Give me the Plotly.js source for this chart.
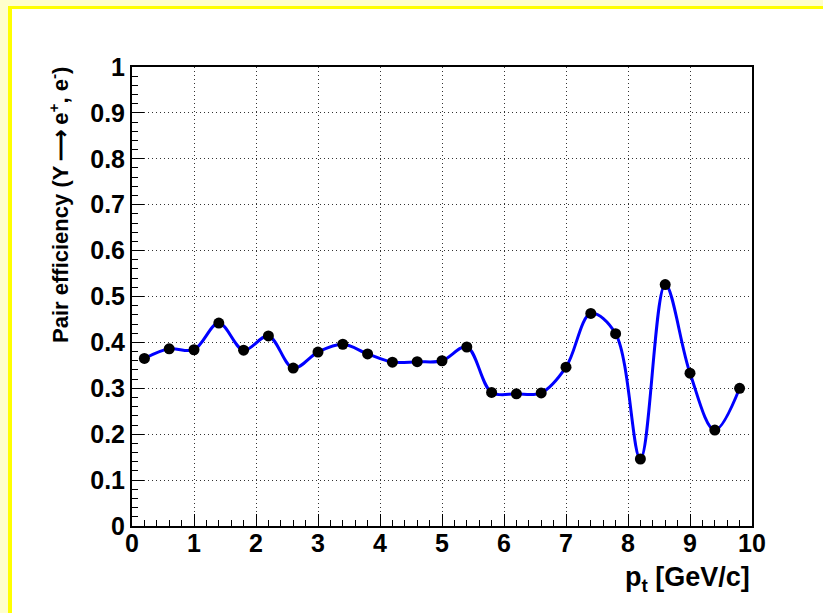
<!DOCTYPE html>
<html>
<head>
<meta charset="utf-8">
<script src="https://cdn.plot.ly/plotly-3.0.1.min.js"></script>
<style>
  html, body { margin: 0; padding: 0; background: #ffffcc; width: 823px; height: 613px; overflow: hidden; }
  #frame { position: absolute; left: 8px; top: 6px; width: 815px; height: 607px; border-left: 4px solid #ffff00; border-top: 3px solid #ffff00; background: #ffffff; }
  #plot { position: absolute; left: 0; top: 0; width: 811px; height: 604px; }
</style>
</head>
<body>
<div id="frame"><div id="plot"></div></div>
<script>
// Data
const ptValues = [0.2, 0.6, 1.0, 1.4, 1.8, 2.2, 2.6, 3.0, 3.4, 3.8, 4.2, 4.6, 5.0,
                  5.4, 5.8, 6.2, 6.6, 7.0, 7.4, 7.8, 8.2, 8.6, 9.0, 9.4, 9.8];
const efficiency = [0.365, 0.386, 0.384, 0.442, 0.383, 0.414, 0.344, 0.379, 0.396, 0.375, 0.357, 0.358, 0.360,
                    0.390, 0.291, 0.288, 0.290, 0.346, 0.463, 0.419, 0.146, 0.526, 0.333, 0.209, 0.300];
const xTickVals = [0, 1, 2, 3, 4, 5, 6, 7, 8, 9, 10];
const xTickText = ["0", "1", "2", "3", "4", "5", "6", "7", "8", "9", "10"];
const yTickVals = [0, 0.1, 0.2, 0.3, 0.4, 0.5, 0.6, 0.7, 0.8, 0.9, 1];
const yTickText = ["0", "0.1", "0.2", "0.3", "0.4", "0.5", "0.6", "0.7", "0.8", "0.9", "1"];
const xTitle = "p<sub>t</sub> [GeV/c]";
const yTitle = "Pair efficiency (\u03A5\u2009\u27F6\u2009e<sup>+</sup>, e<sup>-</sup>)";

const fontFam = "Liberation Sans, Arial, Helvetica, sans-serif";
const tickFont = { family: fontFam, size: 25, color: "#000000", weight: "bold" };

const curve = {
  x: ptValues, y: efficiency, type: "scatter", mode: "lines",
  line: { color: "#0000ff", width: 3, shape: "spline", smoothing: 1.0 },
  hoverinfo: "skip", showlegend: false
};
const points = {
  x: ptValues, y: efficiency, type: "scatter", mode: "markers",
  marker: { color: "#000000", size: 11, symbol: "circle" },
  showlegend: false
};

const axisCommon = {
  showline: true, linecolor: "#000000", linewidth: 2, mirror: true,
  ticks: "inside", ticklen: 12, tickwidth: 1, tickcolor: "#000000",
  showgrid: true, gridcolor: "#333333", gridwidth: 1, griddash: "1px,3px",
  zeroline: false,
  tickfont: tickFont
};

// x tick labels placed as annotations positioned by the x axis scale
const xLabelAnns = xTickVals.map((v, i) => ({
  text: xTickText[i], xref: "x", yref: "paper", x: v, y: -0.036,
  xanchor: "center", yanchor: "middle", showarrow: false, font: tickFont
}));

const layout = {
  width: 811, height: 604,
  margin: { l: 120, r: 71, t: 58, b: 87 },
  paper_bgcolor: "#ffffff", plot_bgcolor: "#ffffff",
  xaxis: Object.assign({}, axisCommon, {
    range: [0, 10], tickvals: xTickVals, ticktext: xTickText, showticklabels: false,
    minor: { ticks: "inside", ticklen: 6, dtick: 0.2, tickcolor: "#000000", showgrid: false }
  }),
  yaxis: Object.assign({}, axisCommon, {
    range: [0, 1], tickvals: yTickVals, ticktext: yTickText,
    ticklabelstandoff: 0,
    minor: { ticks: "inside", ticklen: 6, dtick: 0.02, tickcolor: "#000000", showgrid: false }
  }),
  annotations: xLabelAnns.concat([
    { text: xTitle, xref: "paper", yref: "paper", x: 1, y: -0.115, xanchor: "right", yanchor: "middle",
      showarrow: false, font: { family: fontFam, size: 27, color: "#000000", weight: "bold" } },
    { text: yTitle, xref: "paper", yref: "paper", x: -0.119, y: 0.70, xanchor: "center", yanchor: "middle",
      textangle: -90, showarrow: false, font: { family: fontFam, size: 22, color: "#000000", weight: "bold" } }
  ])
};

Plotly.newPlot("plot", [curve, points], layout, { displayModeBar: false, staticPlot: true });
</script>
</body>
</html>
